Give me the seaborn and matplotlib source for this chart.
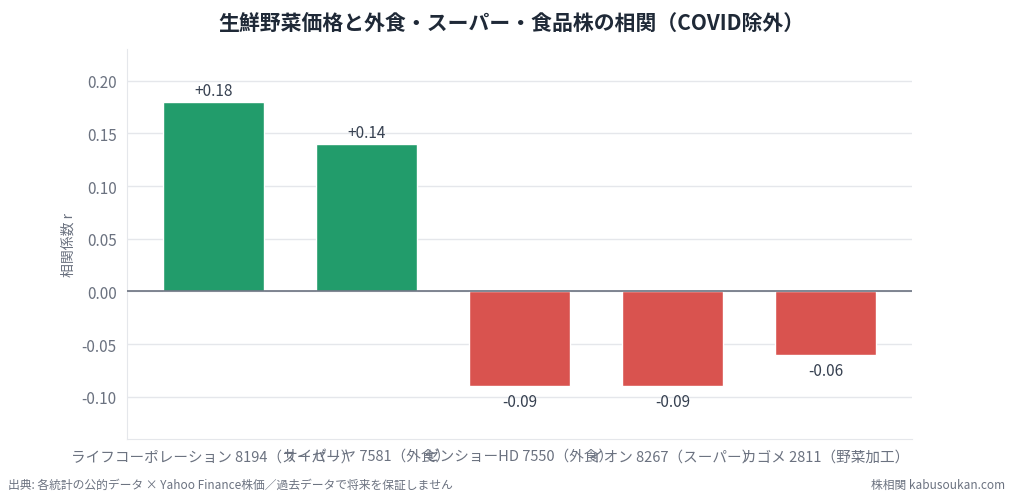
import matplotlib
matplotlib.use("Agg")
import matplotlib.pyplot as plt
import seaborn as sns
import pandas as pd

# data
stocks = ["ライフコーポレーション 8194（スーパー）", "サイゼリヤ 7581（外食）",
          "ゼンショーHD 7550（外食）", "イオン 8267（スーパー）", "カゴメ 2811（野菜加工）"]
corr = [0.18, 0.14, -0.09, -0.09, -0.06]

sns.set_style("white")
plt.rcParams["font.family"] = ["Noto Sans CJK JP", "DejaVu Sans"]

df = pd.DataFrame({"stock": stocks, "r": corr})
df["sign"] = ["pos" if v >= 0 else "neg" for v in corr]

fig = plt.figure(figsize=(10.13, 5.02), dpi=100)
ax = fig.add_axes([0.1254, 0.1235, 0.7749, 0.7769])

sns.barplot(data=df, x="stock", y="r", hue="sign", order=stocks,
            palette={"pos": "#229c6b", "neg": "#d9534f"}, width=0.66,
            dodge=False, legend=False, saturation=1, ax=ax)

ax.set_xlim(-0.563, 4.563)
ax.set_ylim(min(corr) - 0.05, max(corr) + 0.05)
ax.axhline(0, color="#6b7280", lw=1.2, zorder=3)
ax.yaxis.grid(True, color="#e5e7eb", lw=1)
ax.set_axisbelow(True)

for i, v in enumerate(corr):
    ax.annotate(f"{v:+.2f}", (i, v), xytext=(0, 2 if v >= 0 else -5),
                textcoords="offset points", ha="center",
                va="bottom" if v >= 0 else "top", fontsize=11, color="#374151")

for s in ["top", "right"]:
    ax.spines[s].set_visible(False)
for s in ["left", "bottom"]:
    ax.spines[s].set_color("#e5e7eb")

ax.tick_params(axis="both", colors="#374151", labelcolor="#6b7280", length=4, width=0.8)
ax.tick_params(axis="y", labelsize=11)
ax.tick_params(axis="x", labelsize=10.5)
ax.set_yticks([-0.10, -0.05, 0.0, 0.05, 0.10, 0.15, 0.20])
ax.set_yticklabels([f"{t:.2f}" for t in ax.get_yticks()])
ax.set_xlabel("")
ax.set_ylabel("相関係数 r", color="#6b7280", fontsize=10)

fig.suptitle("生鮮野菜価格と外食・スーパー・食品株の相関（COVID除外）",
             x=0.505, y=0.972, fontsize=15, fontweight="bold", color="#1f2937")
fig.text(0.008, 0.034, "出典: 各統計の公的データ × Yahoo Finance株価／過去データで将来を保証しません",
         fontsize=8.5, color="#6b7280", va="center")
fig.text(0.992, 0.034, "株相関 kabusoukan.com", fontsize=8.5, color="#6b7280",
         va="center", ha="right")

fig.savefig("out.png", dpi=100)
